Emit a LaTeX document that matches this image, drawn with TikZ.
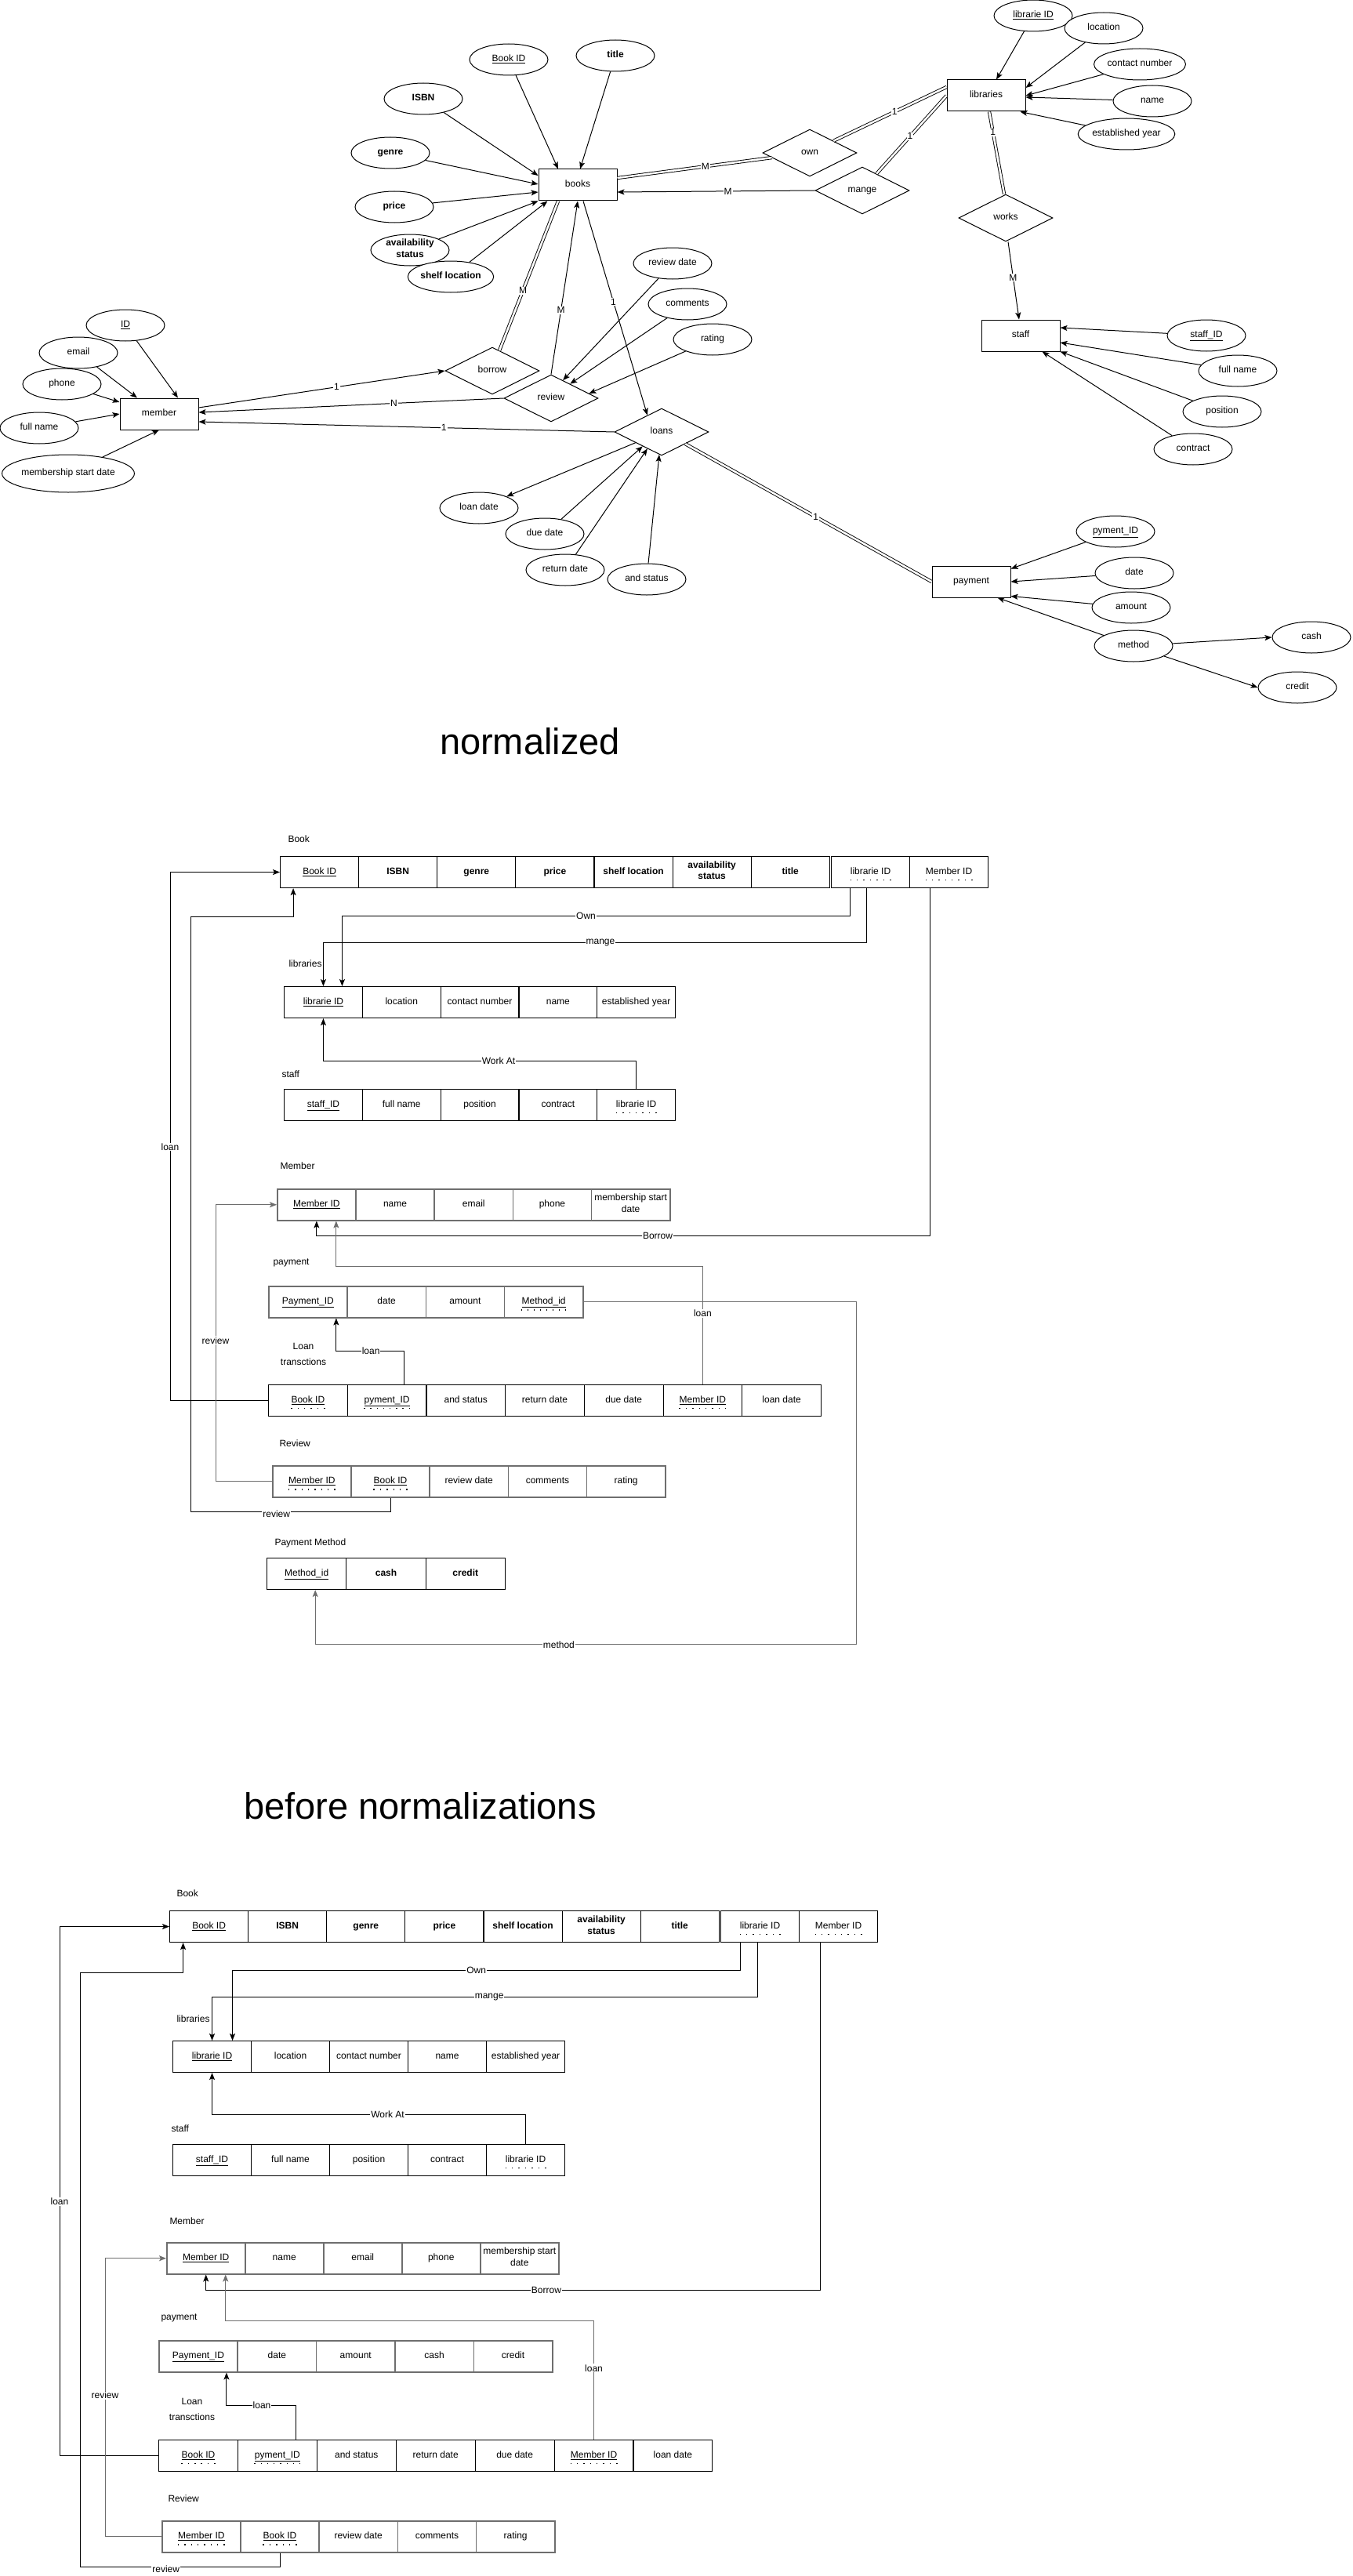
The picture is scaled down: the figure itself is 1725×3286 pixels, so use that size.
\documentclass[tikz,border=0pt]{standalone}
\usepackage{fontspec}
\setmainfont{Liberation Sans}
\usetikzlibrary{shapes.geometric,arrows.meta,calc}

\definecolor{linkgray}{RGB}{110,110,110}

% primary key: underlined
\newcommand\pk[1]{\underline{#1}}
% foreign key: a row of dots under the text
\newcommand\fk[1]{\leavevmode\setbox0=\hbox{#1}%
  \dimen0=\wd0 \advance\dimen0 by 8pt
  \hbox to \wd0{\hss\rlap{\kern-4pt\smash{\raisebox{-8pt}{\hbox to \dimen0{%
    \xleaders\hbox to 8pt{\hss\rule{1.4pt}{1.4pt}\hss}\hfill}}}}\copy0\hss}}

% a row of table cells: prefix, x, y, cell width, extra style, texts
\newcommand\cells[6]{%
  \foreach \txt [count=\i] in {#6} {
    \node[cell, #5, minimum width=#4pt, anchor=north west] (#1\i) at ({#2+(\i-1)*#4},#3) {\txt};
  }}

\tikzset{
  struts/.style={execute at begin node=\strut, execute at end node=\strut},
  ent/.style={draw, rectangle, fill=white, minimum width=100pt, minimum height=40pt, inner sep=0pt, struts},
  att/.style={draw, ellipse, fill=white, minimum width=100pt, minimum height=40pt, inner sep=0pt, align=center, struts},
  rel/.style={draw, diamond, minimum width=120pt, minimum height=60pt, inner sep=0pt, struts},
  arr/.style={-{Stealth[length=9pt,width=7pt,inset=2pt]}},
  dbl/.style={double, double distance=2.5pt, line width=0.9pt},
  lbl/.style={fill=white, inner sep=1pt},
  cell/.style={draw, line width=1.1pt, minimum height=40pt, inner sep=1pt, align=center, struts},
  graycell/.style={draw=linkgray, line width=1.5pt},
  graylink/.style={draw=linkgray},
  sec/.style={anchor=west, inner sep=0pt},
  bigtitle/.style={font=\fontsize{47}{56}\selectfont, anchor=base, inner sep=0pt},
}

\begin{document}
\begin{tikzpicture}[x=1pt, y=-1pt, line width=1pt,
  every node/.append style={font=\fontsize{12}{14.5}\selectfont}]
\fill[white] (0,0) rectangle (1725,3286);
\useasboundingbox (0,0) rectangle (1725,3286);

% ---------------- ER diagram ----------------
\node[ent] (books) at (737,236) {books};
\node[att] (bookid) at (649,76) {\pk{Book ID}};
\node[att] (title) at (785,71) {\textbf{title}};
\node[att] (isbn) at (540,126) {\textbf{ISBN}};
\node[att] (genre) at (498,195) {\textbf{genre}};
\node[att] (price) at (503,264) {\textbf{price}};
\node[att] (avail) at (523,319) {\textbf{availability}\\\textbf{status}};
\node[att] (shelf) at (575,353) {\textbf{shelf location}};

\node[ent] (member) at (203,528) {member};
\node[att] (mid) at (160,415) {\pk{ID}};
\node[att] (memail) at (100,450) {email};
\node[att] (mphone) at (79,490) {phone};
\node[att] (mfull) at (50,546) {full name};
\node[att, minimum width=133pt, minimum height=48pt] (mstart) at (87,604) {membership start date};

\node[rel] (borrow) at (628,473) {borrow};
\node[rel] (review) at (703,508) {review};
\node[rel] (loans) at (844,551) {loans};
\node[rel] (own) at (1033,195) {own};
\node[rel] (mange) at (1100,243) {mange};
\node[rel] (works) at (1283,278) {works};

\node[ent] (libraries) at (1258,122) {libraries};
\node[att] (lid) at (1318,20) {\pk{librarie ID}};
\node[att] (lloc) at (1408,36) {location};
\node[att] (lcontact) at (1454,82) {contact number};
\node[att] (lname) at (1470,129) {name};
\node[att] (lyear) at (1437,171) {established year};

\node[ent] (staff) at (1302,428) {staff};
\node[att] (sid) at (1539,428) {\pk{staff\_ID}};
\node[att] (sfull) at (1579,473) {full name};
\node[att] (spos) at (1559,525) {position};
\node[att] (scon) at (1522,573) {contract};

\node[ent] (payment) at (1239,742) {payment};
\node[att] (pid) at (1423,678) {\pk{pyment\_ID}};
\node[att] (pdate) at (1447,731) {date};
\node[att] (pamount) at (1443,775) {amount};
\node[att] (pmethod) at (1446,824) {method};
\node[att] (pcash) at (1673,813) {cash};
\node[att] (pcredit) at (1655,877) {credit};

\node[att] (rdate) at (858,336) {review date};
\node[att] (rcomm) at (877,388) {comments};
\node[att] (rrate) at (909,433) {rating};

\node[att] (ldate) at (611,648) {loan date};
\node[att] (ddate) at (695,681) {due date};
\node[att] (rtdate) at (721,727) {return date};
\node[att] (lstatus) at (825,739) {and status};

% book attributes
\draw[arr] (bookid) -- ([xshift=-25pt]books.north);
\draw[arr] (title) -- ([xshift=3pt]books.north);
\draw[arr] (isbn) -- ([yshift=12pt]books.west);
\draw[arr] (genre) -- ([yshift=1pt]books.west);
\draw[arr] (price) -- ([yshift=-9pt]books.west);
\draw[arr] (avail) -- (books.south west);
\draw[arr] (shelf) -- ([xshift=12pt]books.south west);

% member attributes
\draw[arr] (mid) -- ([xshift=24pt]member.north);
\draw[arr] (memail) -- ([xshift=-28pt]member.north);
\draw[arr] (mphone) -- ([yshift=15pt]member.west);
\draw[arr] (mfull) -- (member.west);
\draw[arr] (mstart) -- (member.south);

% relationships around books and member
\draw[dbl] ($(borrow.north)!0.15!(borrow.east)$) -- node[lbl,pos=0.4]{M} ([xshift=-25pt]books.south);
\draw[arr] (review.north) -- node[lbl,pos=0.37]{M} (books.south);
\draw[arr] ([xshift=7pt]books.south) -- node[lbl,pos=0.47]{1} ($(loans.north)!0.3!(loans.west)$);
\draw[arr] ([yshift=8pt]member.east) -- node[lbl,pos=0.56]{1} (borrow.west);
\draw[arr] (review.west) -- node[lbl,pos=0.36]{N} ([yshift=2pt]member.east);
\draw[arr] (loans.west) -- node[lbl,pos=0.41]{1} ([yshift=-10pt]member.east);

% review attributes
\draw[arr] (rdate) -- ($(review.north)!0.25!(review.east)$);
\draw[arr] (rcomm) -- ($(review.north)!0.4!(review.east)$);
\draw[arr] (rrate) -- ($(review.north)!0.8!(review.east)$);

% loans attributes
\draw[arr] ($(loans.west)!0.45!(loans.south)$) -- (ldate);
\draw[arr] (ddate) -- ($(loans.west)!0.6!(loans.south)$);
\draw[arr] (rtdate) -- ($(loans.west)!0.7!(loans.south)$);
\draw[arr] (lstatus) -- ($(loans.west)!0.95!(loans.south)$);
\draw[dbl] ($(loans.east)!0.5!(loans.south)$) -- node[lbl,pos=0.53]{1} (payment.west);

% payment attributes
\draw[arr] (pid) -- ([yshift=-4pt]payment.north east);
\draw[arr] (pdate) -- (payment.east);
\draw[arr] (pamount) -- ([yshift=2pt]payment.south east);
\draw[arr] (pmethod) -- ([xshift=-17pt]payment.south east);
\draw[arr] (pmethod) -- (pcash.west);
\draw[arr] (pmethod) -- (pcredit.west);

% libraries attributes
\draw[arr] (lid) -- ([xshift=13pt]libraries.north);
\draw[arr] (lloc) -- ([yshift=10pt]libraries.east);
\draw[arr] (lcontact) -- (libraries.east);
\draw[arr] (lname) -- ([yshift=-2pt]libraries.east);
\draw[arr] (lyear) -- ([xshift=-7pt]libraries.south east);

% libraries relationships
\draw[dbl] ([yshift=9pt]books.east) -- node[lbl,pos=0.57]{M} ($(own.west)!0.2!(own.south)$);
\draw[dbl] ($(own.north)!0.5!(own.east)$) -- node[lbl,pos=0.54]{1} ([yshift=11pt]libraries.west);
\draw[arr] (mange.west) -- node[lbl,pos=0.44]{M} ([yshift=-9pt]books.east);
\draw[dbl] ($(mange.north)!0.3!(mange.east)$) -- node[lbl,pos=0.48]{1} (libraries.west);
\draw[dbl] ([xshift=4pt]libraries.south) -- node[lbl,pos=0.25]{1} ([xshift=-2pt]works.north);
\draw[arr] ([xshift=3pt]works.south) -- node[lbl,pos=0.46]{M} ([xshift=-2pt]staff.north);

% staff attributes
\draw[arr] (sid) -- ([yshift=10pt]staff.east);
\draw[arr] (sfull) -- ([yshift=-9pt]staff.east);
\draw[arr] (spos) -- (staff.south east);
\draw[arr] (scon) -- ([xshift=-23pt]staff.south east);

% ---------------- normalized schema ----------------
\node[bigtitle] (tnorm) at (676,962) {normalized};

\node[sec] (hb) at (367,1070) {Book};
\node[sec] (hl) at (368,1229) {libraries};
\node[sec] (hs) at (359,1370) {staff};
\node[sec] (hm) at (357,1487) {Member};
\node[sec] (hp) at (348,1611) {payment};
\node[align=center, inner sep=0pt] (ht) at (387,1727) {Loan\\[5.5pt]transctions};
\node[sec] (hr) at (356,1841) {Review};
\node[sec] (hpm) at (350,1968) {Payment Method};

\cells{nb}{357}{1092}{100.1}{}{\pk{Book ID},\textbf{ISBN},\textbf{genre},\textbf{price},\textbf{shelf location},\textbf{availability}\\\textbf{status},\textbf{title}}
\cells{nbf}{1060}{1092}{100}{}{\fk{librarie ID},\fk{Member ID}}
\cells{nl}{362}{1258}{99.8}{}{\pk{librarie ID},location,contact number,name,established year}
\cells{ns}{362}{1389}{99.8}{}{\pk{staff\_ID},full name,position,contract,\fk{librarie ID}}
\cells{nm}{353}{1516}{100.2}{graycell}{\pk{Member ID},name,email,phone,membership start\\date}
\cells{np}{342}{1640}{100.25}{graycell}{\pk{Payment\_ID},date,amount,\fk{\pk{Method\_id}}}
\cells{nt}{342}{1766}{100.7}{}{\fk{\pk{Book ID}},\fk{\pk{pyment\_ID}},and status,return date,due date,\fk{\pk{Member ID}},loan date}
\cells{nr}{347}{1869}{100.2}{graycell}{\fk{\pk{Member ID}},\fk{\pk{Book ID}},review date,comments,rating}
\cells{npm}{340}{1987}{101.3}{}{\pk{Method\_id},\textbf{cash},\textbf{credit}}

\draw[arr] ([xshift=-26pt]nbf1.south) -- ++(0,35) -| node[lbl,pos=0.26]{Own} ([xshift=24pt]nl1.north);
\draw[arr] ([xshift=-5pt]nbf1.south) -- ++(0,69) -| node[lbl,pos=0.245]{mange} (nl1.north);
\draw[arr] (ns5.north) -- ++(0,-36) -| node[lbl,pos=0.22]{Work At} (nl1.south);
\draw[arr] ([xshift=-24pt]nbf2.south) -- ++(0,443) -| node[lbl,pos=0.222]{Borrow} (nm1.south);
\draw[arr,graylink] (nt6.north) -- node[lbl,pos=0.6]{loan} ++(0,-151) -| ([xshift=25pt]nm1.south);
\draw[arr,graylink] (np4.east) -- ++(348,0) -- ++(0,437) -| node[lbl,pos=0.275]{method} ([xshift=11pt]npm1.south);
\draw[arr] ([xshift=22pt]nt2.north) -- ++(0,-42.5) -| node[lbl,pos=0.245]{loan} ([xshift=36pt]np1.south);
\draw[arr] (nt1.west) -- ++(-125,0) |- node[lbl,pos=0.24]{loan} (nb1.west);
\draw[arr] (nr2.south) -- ++(0,18) -- node[lbl,pos=0.57,yshift=-3pt]{review} ++(-255,0) -- ++(0,-759) -| ([xshift=-33.5pt]nb1.south);
\draw[arr,graylink] (nr1.west) -- ++(-72,0) |- node[lbl,pos=0.255]{review} (nm1.west);

% ---------------- schema before normalization ----------------
\node[bigtitle] (tbefore) at (536,2320) {before normalizations};

\node[sec] (ohb) at (225,2415) {Book};
\node[sec] (ohl) at (225,2575) {libraries};
\node[sec] (ohs) at (218,2715) {staff};
\node[sec] (ohm) at (216,2833) {Member};
\node[sec] (ohp) at (205,2957) {payment};
\node[align=center, inner sep=0pt] (oht) at (245,3073) {Loan\\[5.5pt]transctions};
\node[sec] (ohr) at (214,3187) {Review};

\cells{ob}{216}{2437}{100.1}{}{\pk{Book ID},\textbf{ISBN},\textbf{genre},\textbf{price},\textbf{shelf location},\textbf{availability}\\\textbf{status},\textbf{title}}
\cells{obf}{919}{2437}{100}{}{\fk{librarie ID},\fk{Member ID}}
\cells{ol}{220}{2603}{100}{}{\pk{librarie ID},location,contact number,name,established year}
\cells{os}{220}{2735}{100}{}{\pk{staff\_ID},full name,position,contract,\fk{librarie ID}}
\cells{om}{212}{2860}{100}{graycell}{\pk{Member ID},name,email,phone,membership start\\date}
\cells{op}{202}{2985}{100.4}{graycell}{\pk{Payment\_ID},date,amount,cash,credit}
\cells{ot}{202}{3112}{100.9}{}{\fk{\pk{Book ID}},\fk{\pk{pyment\_ID}},and status,return date,due date,\fk{\pk{Member ID}},loan date}
\cells{orv}{206}{3215}{100.2}{graycell}{\fk{\pk{Member ID}},\fk{\pk{Book ID}},review date,comments,rating}

\draw[arr] ([xshift=-25pt]obf1.south) -- ++(0,35) -| node[lbl,pos=0.26]{Own} ([xshift=26pt]ol1.north);
\draw[arr] ([xshift=-3pt]obf1.south) -- ++(0,69) -| node[lbl,pos=0.246]{mange} (ol1.north);
\draw[arr] (os5.north) -- ++(0,-37.5) -| node[lbl,pos=0.22]{Work At} (ol1.south);
\draw[arr] ([xshift=-23pt]obf2.south) -- ++(0,443.6) -| node[lbl,pos=0.223]{Borrow} (om1.south);
\draw[arr,graylink] (ot6.north) -- node[lbl,pos=0.6]{loan} ++(0,-152) -| ([xshift=25pt]om1.south);
\draw[arr] ([xshift=23.5pt]ot2.north) -- ++(0,-44) -| node[lbl,pos=0.245]{loan} ([xshift=36pt]op1.south);
\draw[arr] (ot1.west) -- ++(-126,0) |- node[lbl,pos=0.24]{loan} (ob1.west);
\draw[arr] (orv2.south) -- ++(0,18) -- node[lbl,pos=0.57,yshift=-3pt]{review} ++(-255,0) -- ++(0,-758.5) -| ([xshift=-33pt]ob1.south);
\draw[arr,graylink] (orv1.west) -- ++(-72,0) |- node[lbl,pos=0.254]{review} (om1.west);

\end{tikzpicture}
\end{document}
